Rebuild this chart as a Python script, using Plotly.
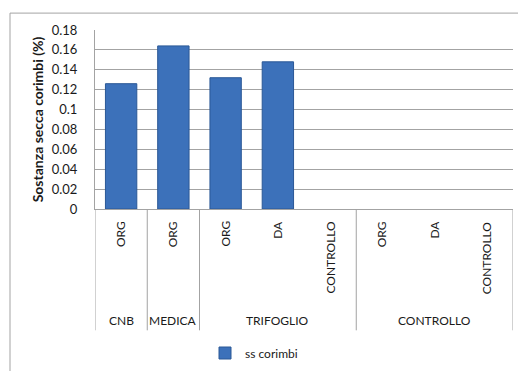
import plotly.graph_objects as go

# ---- data ----
groups = ["CNB", "MEDICA", "TRIFOGLIO", "TRIFOGLIO", "TRIFOGLIO", "CONTROLLO", "CONTROLLO", "CONTROLLO"]
subcats = ["ORG", "ORG", "ORG", "DA", "CONTROLLO", "ORG", "DA", "CONTROLLO"]
ss_corimbi = [0.126, 0.164, 0.132, 0.148, None, None, None, None]
series_name = "ss corimbi"
y_title = "Sostanza secca corimbi (%)"

# ---- layout geometry (pixels) ----
W, H = 518, 371
PL, PR, PT, PB = 95, 513, 30, 210  # plot area


def px_x(px):
    return (px - PL) / (PR - PL)


def px_y(py):
    return (PB - py) / (PB - PT)


FONT = "Lato, 'Open Sans', sans-serif"
GRID = "#a3a3a3"
TXT = "#1a1a1a"

xs = list(range(len(subcats)))

fig = go.Figure()
fig.add_trace(go.Bar(
    x=xs, y=ss_corimbi, name=series_name, width=0.6,
    marker=dict(color="#3c71ba", line=dict(color="#2a5896", width=1)),
    showlegend=True,
))

shapes = []
annotations = []

# sub-category labels (rotated)
for i, s in enumerate(subcats):
    annotations.append(dict(
        x=i, xref="x", y=px_y(220), yref="paper", text=s, textangle=-90,
        showarrow=False, xanchor="center", yanchor="top",
        font=dict(family=FONT, size=12, color=TXT),
    ))

# group labels and dividers
bounds = []
start = 0
for i in range(1, len(groups) + 1):
    if i == len(groups) or groups[i] != groups[start]:
        bounds.append((start, i - 1, groups[start]))
        start = i
for a, b, g in bounds:
    annotations.append(dict(
        x=(a + b) / 2, xref="x", y=px_y(322), yref="paper", text=g,
        showarrow=False, xanchor="center", yanchor="middle",
        font=dict(family=FONT, size=12, color=TXT),
    ))
div_x = [bounds[0][0] - 0.5] + [b + 0.5 for a, b, g in bounds]
for k, dx in enumerate(div_x):
    y1 = px_y(332)
    shapes.append(dict(type="line", xref="x", yref="paper", x0=dx, x1=dx,
                       y0=0, y1=y1, line=dict(color=GRID, width=1)))

# outer chart border (cropped on right/bottom)
shapes.append(dict(type="line", xref="paper", yref="paper", x0=px_x(10), x1=px_x(10),
                   y0=px_y(13), y1=px_y(380), line=dict(color=GRID, width=1)))
shapes.append(dict(type="line", xref="paper", yref="paper", x0=px_x(10), x1=px_x(530),
                   y0=px_y(13), y1=px_y(13), line=dict(color=GRID, width=1)))

fig.update_layout(
    width=W, height=H,
    margin=dict(l=PL, r=W - PR, t=PT, b=H - PB, pad=0),
    paper_bgcolor="white", plot_bgcolor="white",
    font=dict(family=FONT, size=12, color=TXT),
    bargap=0.4,
    shapes=shapes, annotations=annotations,
    legend=dict(orientation="h", x=px_x(254), y=px_y(353), xanchor="center", yanchor="middle",
                font=dict(family=FONT, size=12, color=TXT), bgcolor="rgba(0,0,0,0)"),
    xaxis=dict(range=[-0.5, len(subcats) - 0.5], showticklabels=False, showgrid=False,
               showline=True, linecolor=GRID, linewidth=1, zeroline=False, ticks="", fixedrange=True),
    yaxis=dict(range=[0, 0.18], dtick=0.02, tick0=0, showgrid=True, gridcolor=GRID, gridwidth=1,
               showline=True, linecolor=GRID, linewidth=1, zeroline=False, ticks="",
               ticklabelstandoff=14,
               tickfont=dict(family=FONT, size=13, color=TXT),
               title=dict(text="<b>" + y_title + "</b>", standoff=4,
                          font=dict(family=FONT, size=14, color=TXT))),
)

fig.write_html("out.html")
